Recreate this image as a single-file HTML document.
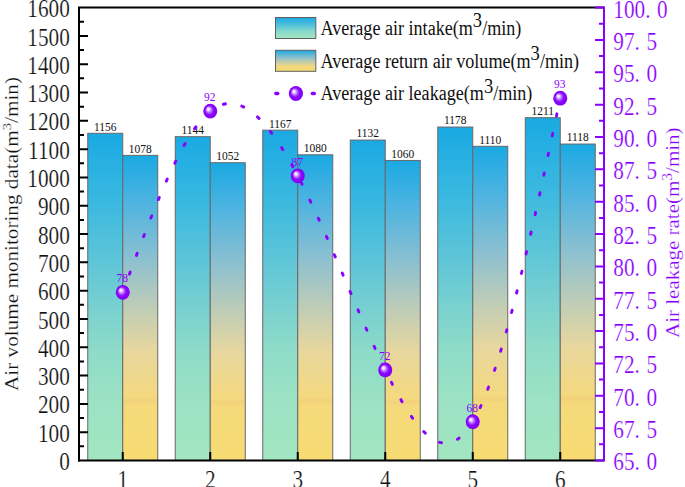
<!DOCTYPE html>
<html><head><meta charset="utf-8"><style>
html,body{margin:0;padding:0;background:#fff;}
svg{display:block;}
text{font-family:"Liberation Serif",serif;}
.er{stroke:#fff;stroke-width:0.22px;}
</style></head><body>
<svg width="685" height="487" viewBox="0 0 685 487">
<defs>
<linearGradient id="gi" x1="0" y1="0" x2="0" y2="1">
 <stop offset="0" stop-color="#1aa9e3"/>
 <stop offset="0.2" stop-color="#38b8e0"/>
 <stop offset="0.39" stop-color="#5ec5d8"/>
 <stop offset="0.53" stop-color="#78d0d0"/>
 <stop offset="0.66" stop-color="#8ddbc8"/>
 <stop offset="0.82" stop-color="#9ce2c4"/>
 <stop offset="1" stop-color="#a2e6c0"/>
</linearGradient>
<linearGradient id="gr" x1="0" y1="0" x2="0" y2="1">
 <stop offset="0" stop-color="#1aa9e3"/>
 <stop offset="0.16" stop-color="#50b4e0"/>
 <stop offset="0.34" stop-color="#8cc0d0"/>
 <stop offset="0.49" stop-color="#bcccb8"/>
 <stop offset="0.64" stop-color="#e8d79e"/>
 <stop offset="0.79" stop-color="#f4d980"/>
 <stop offset="0.805" stop-color="#f2d27a"/>
 <stop offset="0.82" stop-color="#f5da7c"/>
 <stop offset="1" stop-color="#f7db72"/>
</linearGradient>
<linearGradient id="gil" x1="0" y1="0" x2="0" y2="1">
 <stop offset="0" stop-color="#1aa9e3"/>
 <stop offset="0.35" stop-color="#50c0dc"/>
 <stop offset="0.7" stop-color="#8cdcc8"/>
 <stop offset="1" stop-color="#a2e6c0"/>
</linearGradient>
<linearGradient id="grl" x1="0" y1="0" x2="0" y2="1">
 <stop offset="0" stop-color="#1aa9e3"/>
 <stop offset="0.4" stop-color="#9cc4c8"/>
 <stop offset="0.75" stop-color="#f0d880"/>
 <stop offset="1" stop-color="#f6da70"/>
</linearGradient>
<radialGradient id="ball" cx="0.5" cy="0.5" r="0.5" fx="0.34" fy="0.34" gradientUnits="objectBoundingBox">
 <stop offset="0" stop-color="#ffffff"/>
 <stop offset="0.15" stop-color="#f2e4ff"/>
 <stop offset="0.42" stop-color="#b060ff"/>
 <stop offset="0.62" stop-color="#8c08ff"/>
 <stop offset="0.9" stop-color="#8600fa"/>
 <stop offset="1" stop-color="#7c00ee"/>
</radialGradient>
</defs>

<rect x="87.75" y="133.28" width="35.00" height="327.22" fill="url(#gi)" stroke="#686868" stroke-width="1"/>
<rect x="122.75" y="155.36" width="35.00" height="305.14" fill="url(#gr)" stroke="#686868" stroke-width="1"/>
<rect x="175.25" y="136.68" width="35.00" height="323.82" fill="url(#gi)" stroke="#686868" stroke-width="1"/>
<rect x="210.25" y="162.72" width="35.00" height="297.78" fill="url(#gr)" stroke="#686868" stroke-width="1"/>
<rect x="262.75" y="130.17" width="35.00" height="330.33" fill="url(#gi)" stroke="#686868" stroke-width="1"/>
<rect x="297.75" y="154.79" width="35.00" height="305.71" fill="url(#gr)" stroke="#686868" stroke-width="1"/>
<rect x="350.25" y="140.07" width="35.00" height="320.43" fill="url(#gi)" stroke="#686868" stroke-width="1"/>
<rect x="385.25" y="160.45" width="35.00" height="300.05" fill="url(#gr)" stroke="#686868" stroke-width="1"/>
<rect x="437.75" y="127.05" width="35.00" height="333.45" fill="url(#gi)" stroke="#686868" stroke-width="1"/>
<rect x="472.75" y="146.30" width="35.00" height="314.20" fill="url(#gr)" stroke="#686868" stroke-width="1"/>
<rect x="525.25" y="117.71" width="35.00" height="342.79" fill="url(#gi)" stroke="#686868" stroke-width="1"/>
<rect x="560.25" y="144.04" width="35.00" height="316.46" fill="url(#gr)" stroke="#686868" stroke-width="1"/>
<text transform="translate(105.25,130.68) scale(0.85,1)" font-size="13.5" text-anchor="middle" fill="#111">1156</text>
<text transform="translate(140.25,152.76) scale(0.85,1)" font-size="13.5" text-anchor="middle" fill="#111">1078</text>
<text transform="translate(192.75,134.08) scale(0.85,1)" font-size="13.5" text-anchor="middle" fill="#111">1144</text>
<text transform="translate(227.75,160.12) scale(0.85,1)" font-size="13.5" text-anchor="middle" fill="#111">1052</text>
<text transform="translate(280.25,127.57) scale(0.85,1)" font-size="13.5" text-anchor="middle" fill="#111">1167</text>
<text transform="translate(315.25,152.19) scale(0.85,1)" font-size="13.5" text-anchor="middle" fill="#111">1080</text>
<text transform="translate(367.75,137.47) scale(0.85,1)" font-size="13.5" text-anchor="middle" fill="#111">1132</text>
<text transform="translate(402.75,157.85) scale(0.85,1)" font-size="13.5" text-anchor="middle" fill="#111">1060</text>
<text transform="translate(455.25,124.45) scale(0.85,1)" font-size="13.5" text-anchor="middle" fill="#111">1178</text>
<text transform="translate(490.25,143.70) scale(0.85,1)" font-size="13.5" text-anchor="middle" fill="#111">1110</text>
<text transform="translate(542.75,115.11) scale(0.85,1)" font-size="13.5" text-anchor="middle" fill="#111">1211</text>
<text transform="translate(577.75,141.44) scale(0.85,1)" font-size="13.5" text-anchor="middle" fill="#111">1118</text>
<path d="M79.0,461.5 V7.6 H604.0" fill="none" stroke="#000" stroke-width="2"/>
<path d="M78.0,460.5 H604.0" fill="none" stroke="#000" stroke-width="2"/>
<path d="M79.0,446.35h5 M79.0,432.19h9 M79.0,418.04h5 M79.0,403.89h9 M79.0,389.73h5 M79.0,375.58h9 M79.0,361.43h5 M79.0,347.27h9 M79.0,333.12h5 M79.0,318.97h9 M79.0,304.82h5 M79.0,290.66h9 M79.0,276.51h5 M79.0,262.36h9 M79.0,248.20h5 M79.0,234.05h9 M79.0,219.90h5 M79.0,205.74h9 M79.0,191.59h5 M79.0,177.44h9 M79.0,163.28h5 M79.0,149.13h9 M79.0,134.98h5 M79.0,120.82h9 M79.0,106.67h5 M79.0,92.52h9 M79.0,78.37h5 M79.0,64.21h9 M79.0,50.06h5 M79.0,35.91h9 M79.0,21.75h5" stroke="#000" stroke-width="2"/>
<path d="M122.75,460.5v-8.5 M210.25,460.5v-8.5 M297.75,460.5v-8.5 M385.25,460.5v-8.5 M472.75,460.5v-8.5 M560.25,460.5v-8.5" stroke="#000" stroke-width="2"/>
<path d="M604.0,461.5 V6.6" stroke="#8a00ff" stroke-width="2"/>
<path d="M604.0,460.50h-9 M604.0,444.32h-5 M604.0,428.15h-9 M604.0,411.98h-5 M604.0,395.80h-9 M604.0,379.62h-5 M604.0,363.45h-9 M604.0,347.27h-5 M604.0,331.10h-9 M604.0,314.93h-5 M604.0,298.75h-9 M604.0,282.57h-5 M604.0,266.40h-9 M604.0,250.22h-5 M604.0,234.05h-9 M604.0,217.88h-5 M604.0,201.70h-9 M604.0,185.52h-5 M604.0,169.35h-9 M604.0,153.18h-5 M604.0,137.00h-9 M604.0,120.82h-5 M604.0,104.65h-9 M604.0,88.48h-5 M604.0,72.30h-9 M604.0,56.12h-5 M604.0,39.95h-9 M604.0,23.77h-5 M604.0,7.60h-9" stroke="#8a00ff" stroke-width="2"/>
<text transform="translate(69.8,470.10) scale(0.85,1)" font-size="25" text-anchor="end" fill="#111" class="er">0</text>
<text transform="translate(69.8,441.79) scale(0.85,1)" font-size="25" text-anchor="end" fill="#111" class="er">100</text>
<text transform="translate(69.8,413.49) scale(0.85,1)" font-size="25" text-anchor="end" fill="#111" class="er">200</text>
<text transform="translate(69.8,385.18) scale(0.85,1)" font-size="25" text-anchor="end" fill="#111" class="er">300</text>
<text transform="translate(69.8,356.88) scale(0.85,1)" font-size="25" text-anchor="end" fill="#111" class="er">400</text>
<text transform="translate(69.8,328.57) scale(0.85,1)" font-size="25" text-anchor="end" fill="#111" class="er">500</text>
<text transform="translate(69.8,300.26) scale(0.85,1)" font-size="25" text-anchor="end" fill="#111" class="er">600</text>
<text transform="translate(69.8,271.96) scale(0.85,1)" font-size="25" text-anchor="end" fill="#111" class="er">700</text>
<text transform="translate(69.8,243.65) scale(0.85,1)" font-size="25" text-anchor="end" fill="#111" class="er">800</text>
<text transform="translate(69.8,215.34) scale(0.85,1)" font-size="25" text-anchor="end" fill="#111" class="er">900</text>
<text transform="translate(69.8,187.04) scale(0.85,1)" font-size="25" text-anchor="end" fill="#111" class="er">1000</text>
<text transform="translate(69.8,158.73) scale(0.85,1)" font-size="25" text-anchor="end" fill="#111" class="er">1100</text>
<text transform="translate(69.8,130.42) scale(0.85,1)" font-size="25" text-anchor="end" fill="#111" class="er">1200</text>
<text transform="translate(69.8,102.12) scale(0.85,1)" font-size="25" text-anchor="end" fill="#111" class="er">1300</text>
<text transform="translate(69.8,73.81) scale(0.85,1)" font-size="25" text-anchor="end" fill="#111" class="er">1400</text>
<text transform="translate(69.8,45.51) scale(0.85,1)" font-size="25" text-anchor="end" fill="#111" class="er">1500</text>
<text transform="translate(69.8,17.20) scale(0.85,1)" font-size="25" text-anchor="end" fill="#111" class="er">1600</text>
<text transform="translate(122.75,488.00) scale(0.85,1)" font-size="25" text-anchor="middle" fill="#111" class="er">1</text>
<text transform="translate(210.25,488.00) scale(0.85,1)" font-size="25" text-anchor="middle" fill="#111" class="er">2</text>
<text transform="translate(297.75,488.00) scale(0.85,1)" font-size="25" text-anchor="middle" fill="#111" class="er">3</text>
<text transform="translate(385.25,488.00) scale(0.85,1)" font-size="25" text-anchor="middle" fill="#111" class="er">4</text>
<text transform="translate(472.75,488.00) scale(0.85,1)" font-size="25" text-anchor="middle" fill="#111" class="er">5</text>
<text transform="translate(560.25,488.00) scale(0.85,1)" font-size="25" text-anchor="middle" fill="#111" class="er">6</text>
<text transform="translate(613.3,470.40) scale(0.85,1)" font-size="25" fill="#8a00ff" class="er">65.<tspan dx="7.8">0</tspan></text>
<text transform="translate(613.3,438.05) scale(0.85,1)" font-size="25" fill="#8a00ff" class="er">67.<tspan dx="7.8">5</tspan></text>
<text transform="translate(613.3,405.70) scale(0.85,1)" font-size="25" fill="#8a00ff" class="er">70.<tspan dx="7.8">0</tspan></text>
<text transform="translate(613.3,373.35) scale(0.85,1)" font-size="25" fill="#8a00ff" class="er">72.<tspan dx="7.8">5</tspan></text>
<text transform="translate(613.3,341.00) scale(0.85,1)" font-size="25" fill="#8a00ff" class="er">75.<tspan dx="7.8">0</tspan></text>
<text transform="translate(613.3,308.65) scale(0.85,1)" font-size="25" fill="#8a00ff" class="er">77.<tspan dx="7.8">5</tspan></text>
<text transform="translate(613.3,276.30) scale(0.85,1)" font-size="25" fill="#8a00ff" class="er">80.<tspan dx="7.8">0</tspan></text>
<text transform="translate(613.3,243.95) scale(0.85,1)" font-size="25" fill="#8a00ff" class="er">82.<tspan dx="7.8">5</tspan></text>
<text transform="translate(613.3,211.60) scale(0.85,1)" font-size="25" fill="#8a00ff" class="er">85.<tspan dx="7.8">0</tspan></text>
<text transform="translate(613.3,179.25) scale(0.85,1)" font-size="25" fill="#8a00ff" class="er">87.<tspan dx="7.8">5</tspan></text>
<text transform="translate(613.3,146.90) scale(0.85,1)" font-size="25" fill="#8a00ff" class="er">90.<tspan dx="7.8">0</tspan></text>
<text transform="translate(613.3,114.55) scale(0.85,1)" font-size="25" fill="#8a00ff" class="er">92.<tspan dx="7.8">5</tspan></text>
<text transform="translate(613.3,82.20) scale(0.85,1)" font-size="25" fill="#8a00ff" class="er">95.<tspan dx="7.8">0</tspan></text>
<text transform="translate(613.3,49.85) scale(0.85,1)" font-size="25" fill="#8a00ff" class="er">97.<tspan dx="7.8">5</tspan></text>
<text transform="translate(613.3,17.50) scale(0.85,1)" font-size="25" fill="#8a00ff" class="er">100.<tspan dx="7.8">0</tspan></text>
<g transform="scale(0.92525,1)"><path d="M132.67,292.28 L133.85,289.31 L135.04,286.35 L136.22,283.38 L137.41,280.42 L138.59,277.46 L139.78,274.50 L140.96,271.54 L142.15,268.59 L143.33,265.65 L144.52,262.71 L145.70,259.78 L146.89,256.86 L148.07,253.94 L149.26,251.03 L150.44,248.13 L151.63,245.25 L152.81,242.37 L154.00,239.50 L155.18,236.65 L156.37,233.80 L157.55,230.97 L158.74,228.16 L159.92,225.36 L161.11,222.57 L162.29,219.80 L163.48,217.05 L164.66,214.31 L165.85,211.59 L167.03,208.89 L168.22,206.21 L169.40,203.55 L170.59,200.90 L171.77,198.28 L172.96,195.68 L174.14,193.11 L175.33,190.55 L176.51,188.02 L177.70,185.52 L178.88,183.04 L180.07,180.58 L181.25,178.15 L182.44,175.75 L183.63,173.38 L184.81,171.03 L186.00,168.72 L187.18,166.43 L188.37,164.17 L189.55,161.94 L190.74,159.75 L191.92,157.59 L193.11,155.46 L194.29,153.36 L195.48,151.30 L196.66,149.27 L197.85,147.28 L199.03,145.33 L200.22,143.41 L201.40,141.53 L202.59,139.68 L203.77,137.88 L204.96,136.11 L206.14,134.39 L207.33,132.70 L208.51,131.06 L209.70,129.46 L210.88,127.90 L212.07,126.39 L213.25,124.92 L214.44,123.49 L215.62,122.11 L216.81,120.78 L217.99,119.49 L219.18,118.25 L220.36,117.06 L221.55,115.91 L222.73,114.82 L223.92,113.77 L225.10,112.78 L226.29,111.84 L227.47,110.95 L228.66,110.11 L229.84,109.32 L231.03,108.59 L232.21,107.90 L233.40,107.27 L234.58,106.69 L235.77,106.15 L236.95,105.67 L238.14,105.24 L239.32,104.85 L240.51,104.52 L241.69,104.23 L242.88,103.99 L244.06,103.80 L245.25,103.65 L246.43,103.55 L247.62,103.50 L248.80,103.49 L249.99,103.53 L251.17,103.61 L252.36,103.74 L253.54,103.92 L254.73,104.13 L255.91,104.39 L257.10,104.70 L258.28,105.04 L259.47,105.43 L260.66,105.86 L261.84,106.33 L263.03,106.85 L264.21,107.40 L265.40,108.00 L266.58,108.63 L267.77,109.31 L268.95,110.02 L270.14,110.77 L271.32,111.56 L272.51,112.39 L273.69,113.26 L274.88,114.17 L276.06,115.11 L277.25,116.09 L278.43,117.10 L279.62,118.15 L280.80,119.24 L281.99,120.36 L283.17,121.52 L284.36,122.71 L285.54,123.93 L286.73,125.19 L287.91,126.48 L289.10,127.81 L290.28,129.16 L291.47,130.55 L292.65,131.97 L293.84,133.42 L295.02,134.91 L296.21,136.42 L297.39,137.96 L298.58,139.54 L299.76,141.14 L300.95,142.77 L302.13,144.43 L303.32,146.12 L304.50,147.83 L305.69,149.58 L306.87,151.35 L308.06,153.15 L309.24,154.97 L310.43,156.82 L311.61,158.69 L312.80,160.59 L313.98,162.52 L315.17,164.47 L316.35,166.44 L317.54,168.44 L318.72,170.46 L319.91,172.50 L321.09,174.57 L322.28,176.66 L323.46,178.77 L324.65,180.90 L325.83,183.05 L327.02,185.22 L328.20,187.41 L329.39,189.62 L330.57,191.85 L331.76,194.10 L332.94,196.36 L334.13,198.65 L335.31,200.95 L336.50,203.26 L337.68,205.59 L338.87,207.94 L340.06,210.30 L341.24,212.67 L342.43,215.06 L343.61,217.46 L344.80,219.88 L345.98,222.30 L347.17,224.74 L348.35,227.19 L349.54,229.65 L350.72,232.12 L351.91,234.60 L353.09,237.09 L354.28,239.59 L355.46,242.09 L356.65,244.61 L357.83,247.13 L359.02,249.66 L360.20,252.19 L361.39,254.73 L362.57,257.27 L363.76,259.82 L364.94,262.38 L366.13,264.93 L367.31,267.49 L368.50,270.06 L369.68,272.62 L370.87,275.19 L372.05,277.75 L373.24,280.32 L374.42,282.89 L375.61,285.46 L376.79,288.03 L377.98,290.59 L379.16,293.16 L380.35,295.72 L381.53,298.28 L382.72,300.84 L383.90,303.39 L385.09,305.94 L386.27,308.48 L387.46,311.02 L388.64,313.55 L389.83,316.07 L391.01,318.59 L392.20,321.10 L393.38,323.61 L394.57,326.10 L395.75,328.59 L396.94,331.07 L398.12,333.53 L399.31,335.99 L400.49,338.44 L401.68,340.87 L402.86,343.29 L404.05,345.70 L405.23,348.10 L406.42,350.49 L407.60,352.86 L408.79,355.21 L409.97,357.55 L411.16,359.88 L412.34,362.19 L413.53,364.48 L414.71,366.76 L415.90,369.02 L417.08,371.26 L418.27,373.49 L419.46,375.69 L420.64,377.87 L421.83,380.04 L423.01,382.18 L424.20,384.30 L425.38,386.39 L426.57,388.46 L427.75,390.51 L428.94,392.53 L430.12,394.52 L431.31,396.49 L432.49,398.42 L433.68,400.33 L434.86,402.21 L436.05,404.05 L437.23,405.87 L438.42,407.65 L439.60,409.40 L440.79,411.12 L441.97,412.79 L443.16,414.44 L444.34,416.05 L445.53,417.62 L446.71,419.15 L447.90,420.64 L449.08,422.09 L450.27,423.50 L451.45,424.87 L452.64,426.20 L453.82,427.48 L455.01,428.72 L456.19,429.92 L457.38,431.07 L458.56,432.17 L459.75,433.23 L460.93,434.23 L462.12,435.19 L463.30,436.10 L464.49,436.96 L465.67,437.76 L466.86,438.52 L468.04,439.22 L469.23,439.86 L470.41,440.45 L471.60,440.99 L472.78,441.47 L473.97,441.89 L475.15,442.25 L476.34,442.56 L477.52,442.80 L478.71,442.99 L479.89,443.11 L481.08,443.17 L482.26,443.17 L483.45,443.10 L484.63,442.97 L485.82,442.78 L487.00,442.51 L488.19,442.18 L489.37,441.79 L490.56,441.32 L491.74,440.78 L492.93,440.17 L494.11,439.50 L495.30,438.75 L496.49,437.92 L497.67,437.02 L498.86,436.05 L500.04,435.00 L501.23,433.88 L502.41,432.68 L503.60,431.40 L504.78,430.04 L505.97,428.60 L507.15,427.09 L508.34,425.49 L509.52,423.81 L510.71,422.04 L511.89,420.20 L513.08,418.26 L514.26,416.25 L515.45,414.16 L516.63,411.98 L517.82,409.73 L519.00,407.40 L520.19,405.00 L521.37,402.51 L522.56,399.96 L523.74,397.33 L524.93,394.62 L526.11,391.85 L527.30,389.00 L528.48,386.09 L529.67,383.10 L530.85,380.05 L532.04,376.94 L533.22,373.76 L534.41,370.51 L535.59,367.20 L536.78,363.83 L537.96,360.40 L539.15,356.91 L540.33,353.36 L541.52,349.75 L542.70,346.08 L543.89,342.36 L545.07,338.59 L546.26,334.76 L547.44,330.88 L548.63,326.94 L549.81,322.96 L551.00,318.93 L552.18,314.85 L553.37,310.72 L554.55,306.54 L555.74,302.32 L556.92,298.06 L558.11,293.75 L559.29,289.40 L560.48,285.01 L561.66,280.58 L562.85,276.11 L564.03,271.60 L565.22,267.06 L566.40,262.48 L567.59,257.87 L568.77,253.22 L569.96,248.54 L571.14,243.82 L572.33,239.08 L573.51,234.31 L574.70,229.51 L575.89,224.68 L577.07,219.83 L578.26,214.95 L579.44,210.05 L580.63,205.12 L581.81,200.17 L583.00,195.20 L584.18,190.21 L585.37,185.20 L586.55,180.18 L587.74,175.13 L588.92,170.07 L590.11,165.00 L591.29,159.91 L592.48,154.81 L593.66,149.70 L594.85,144.58 L596.03,139.45 L597.22,134.31 L598.40,129.16 L599.59,124.01 L600.77,118.85 L601.96,113.68 L603.14,108.52 L604.33,103.35 L605.51,98.18" fill="none" stroke="#8a00ff" stroke-width="3.1" stroke-linecap="round" stroke-dasharray="2.2 18.0357" stroke-dashoffset="0.6897"/></g>
<ellipse cx="122.75" cy="292.28" rx="7.0" ry="7.4" fill="url(#ball)"/>
<text transform="translate(122.25,282.48) scale(0.85,1)" font-size="13.5" text-anchor="middle" fill="#8a00ff">78</text>
<ellipse cx="210.25" cy="111.12" rx="7.0" ry="7.4" fill="url(#ball)"/>
<text transform="translate(209.75,101.32) scale(0.85,1)" font-size="13.5" text-anchor="middle" fill="#8a00ff">92</text>
<ellipse cx="297.75" cy="175.82" rx="7.0" ry="7.4" fill="url(#ball)"/>
<text transform="translate(297.25,166.02) scale(0.85,1)" font-size="13.5" text-anchor="middle" fill="#8a00ff">87</text>
<ellipse cx="385.25" cy="369.92" rx="7.0" ry="7.4" fill="url(#ball)"/>
<text transform="translate(384.75,360.12) scale(0.85,1)" font-size="13.5" text-anchor="middle" fill="#8a00ff">72</text>
<ellipse cx="472.75" cy="421.68" rx="7.0" ry="7.4" fill="url(#ball)"/>
<text transform="translate(472.25,411.88) scale(0.85,1)" font-size="13.5" text-anchor="middle" fill="#8a00ff">68</text>
<ellipse cx="560.25" cy="98.18" rx="7.0" ry="7.4" fill="url(#ball)"/>
<text transform="translate(559.75,88.38) scale(0.85,1)" font-size="13.5" text-anchor="middle" fill="#8a00ff">93</text>
<rect x="275.5" y="17.5" width="40.3" height="21" fill="url(#gil)" stroke="#606060" stroke-width="1"/>
<rect x="275.5" y="50.3" width="40.3" height="21" fill="url(#grl)" stroke="#606060" stroke-width="1"/>
<path d="M275.8,93.5 h2 M312.3,93.5 h2" stroke="#8a00ff" stroke-width="3.4" stroke-linecap="round"/>
<ellipse cx="295.9" cy="93.5" rx="7.1" ry="7.5" fill="url(#ball)"/>
<text transform="translate(320.5,34.8) scale(0.905,1)" font-size="20" fill="#111">Average air intake(m<tspan dy="-7.5" font-size="20.5">3</tspan><tspan dy="7.5">/min)</tspan></text>
<text transform="translate(320.5,67.8) scale(0.905,1)" font-size="20" fill="#111">Average return air volume(m<tspan dy="-7.5" font-size="20.5">3</tspan><tspan dy="7.5">/min)</tspan></text>
<text transform="translate(320.5,100.2) scale(0.905,1)" font-size="20" fill="#111">Average air leakage(m<tspan dy="-7.5" font-size="20.5">3</tspan><tspan dy="7.5">/min)</tspan></text>
<text transform="translate(18.0,391) scale(0.9,1) rotate(-90)" font-size="21.2" fill="#111" class="er">Air volume monitoring data(m<tspan dy="-7.9" font-size="14.8">3</tspan><tspan dy="7.9">/min)</tspan></text>
<text transform="translate(678.6,338) scale(0.9,1) rotate(-90)" font-size="21" fill="#8a00ff" class="er">Air leakage rate(m<tspan dy="-7.6" font-size="15.5">3</tspan><tspan dy="7.6">/min)</tspan></text>
</svg></body></html>
